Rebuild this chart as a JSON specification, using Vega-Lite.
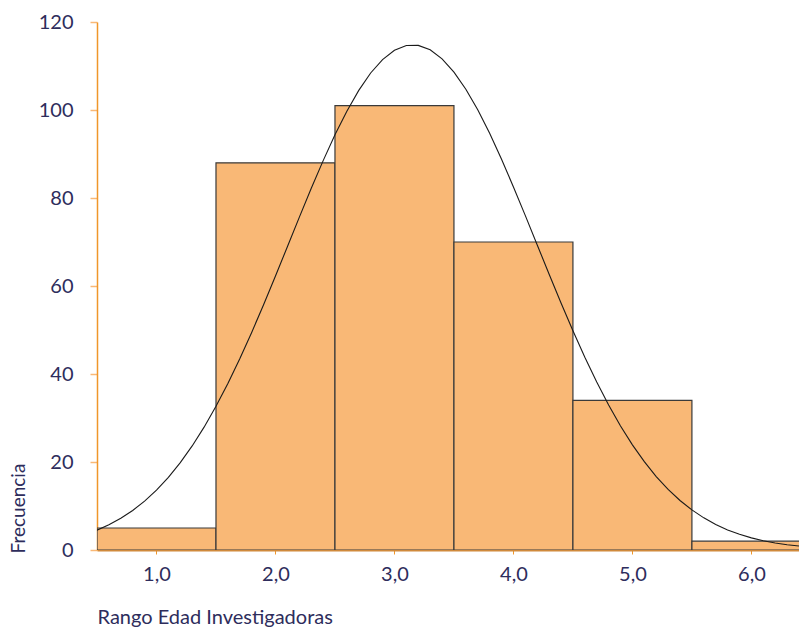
{
  "$schema": "https://vega.github.io/schema/vega-lite/v6.json",
  "width": 702,
  "height": 528,
  "autosize": {"type": "none"},
  "padding": {"left": 97, "top": 22, "right": 0, "bottom": 79},
  "background": "white",
  "config": {
    "view": {"stroke": null},
    "font": "Lato",
    "axis": {"grid": false, "labelColor": "#2E2D5C", "titleColor": "#2E2D5C", "labelFont": "Lato", "titleFont": "Lato", "titleFontWeight": "normal"}
  },
  "datasets": {
    "bars": [
      {"start": 0.5, "end": 1.5, "count": 5},
      {"start": 1.5, "end": 2.5, "count": 88},
      {"start": 2.5, "end": 3.5, "count": 101},
      {"start": 3.5, "end": 4.5, "count": 70},
      {"start": 4.5, "end": 5.5, "count": 34},
      {"start": 5.5, "end": 6.5, "count": 2}
    ],
    "curve": [
      {"x": 0.5, "y": 4.51}, {"x": 0.6, "y": 5.72}, {"x": 0.7, "y": 7.21}, {"x": 0.8, "y": 8.99},
      {"x": 0.9, "y": 11.11}, {"x": 1.0, "y": 13.61}, {"x": 1.1, "y": 16.51}, {"x": 1.2, "y": 19.85},
      {"x": 1.3, "y": 23.65}, {"x": 1.4, "y": 27.92}, {"x": 1.5, "y": 32.66}, {"x": 1.6, "y": 37.85},
      {"x": 1.7, "y": 43.46}, {"x": 1.8, "y": 49.45}, {"x": 1.9, "y": 55.75}, {"x": 2.0, "y": 62.27},
      {"x": 2.1, "y": 68.93}, {"x": 2.2, "y": 75.59}, {"x": 2.3, "y": 82.14}, {"x": 2.4, "y": 88.44},
      {"x": 2.5, "y": 94.35}, {"x": 2.6, "y": 99.73}, {"x": 2.7, "y": 104.46}, {"x": 2.8, "y": 108.41},
      {"x": 2.9, "y": 111.47}, {"x": 3.0, "y": 113.57}, {"x": 3.1, "y": 114.65}, {"x": 3.2, "y": 114.68},
      {"x": 3.3, "y": 113.67}, {"x": 3.4, "y": 111.62}, {"x": 3.5, "y": 108.61}, {"x": 3.6, "y": 104.72},
      {"x": 3.7, "y": 100.04}, {"x": 3.8, "y": 94.69}, {"x": 3.9, "y": 88.81}, {"x": 4.0, "y": 82.52},
      {"x": 4.1, "y": 75.99}, {"x": 4.2, "y": 69.33}, {"x": 4.3, "y": 62.67}, {"x": 4.4, "y": 56.14},
      {"x": 4.5, "y": 49.82}, {"x": 4.6, "y": 43.81}, {"x": 4.7, "y": 38.17}, {"x": 4.8, "y": 32.96},
      {"x": 4.9, "y": 28.19}, {"x": 5.0, "y": 23.9}, {"x": 5.1, "y": 20.07}, {"x": 5.2, "y": 16.7},
      {"x": 5.3, "y": 13.77}, {"x": 5.4, "y": 11.25}, {"x": 5.5, "y": 9.11}, {"x": 5.6, "y": 7.31},
      {"x": 5.7, "y": 5.81}, {"x": 5.8, "y": 4.57}, {"x": 5.9, "y": 3.57}, {"x": 6.0, "y": 2.76},
      {"x": 6.1, "y": 2.11}, {"x": 6.2, "y": 1.6}, {"x": 6.3, "y": 1.21}, {"x": 6.4, "y": 0.9}
    ]
  },
  "layer": [
    {
      "data": {"name": "bars"},
      "mark": {"type": "rect", "fill": "#F9B876", "stroke": "#3a3a3a", "strokeWidth": 1.2, "clip": true},
      "encoding": {
        "x": {
          "field": "start", "type": "quantitative",
          "scale": {"domain": [0.5, 6.4], "nice": false, "zero": false},
          "axis": {
            "values": [1, 2, 3, 4, 5, 6],
            "labelExpr": "replace(format(datum.value, '.1f'), '.', ',')",
            "domainColor": "#D08A3C", "domainWidth": 2,
            "tickColor": "#F0962A", "tickSize": 4, "tickOffset": 0, "ticks": true,
            "labelFontSize": 20, "labelPadding": 10,
            "title": "Rango Edad Investigadoras",
            "titleFontSize": 20, "titleAnchor": "start", "titleAlign": "left",
            "titleX": 0, "titleY": 67, "titleBaseline": "middle"
          }
        },
        "x2": {"field": "end"},
        "y": {
          "field": "count", "type": "quantitative",
          "scale": {"domain": [0, 120], "nice": false},
          "axis": {
            "values": [0, 20, 40, 60, 80, 100, 120],
            "domainColor": "#F0962A", "domainWidth": 1.5,
            "tickColor": "#F9B876", "tickSize": 7, "tickWidth": 1.5,
            "labelFontSize": 20, "labelPadding": 17,
            "title": "Frecuencia",
            "titleFontSize": 19, "titleAngle": 270, "titleAlign": "left",
            "titleBaseline": "middle", "titleX": -79, "titleY": 531
          }
        },
        "y2": {"datum": 0}
      }
    },
    {
      "mark": {"type": "rule", "color": "#F9C27F", "strokeWidth": 2},
      "encoding": {"y": {"datum": 120}}
    },
    {
      "data": {"name": "curve"},
      "mark": {"type": "line", "color": "#1a1a1a", "strokeWidth": 1.1, "clip": true},
      "encoding": {
        "x": {"field": "x", "type": "quantitative"},
        "y": {"field": "y", "type": "quantitative"}
      }
    }
  ]
}
